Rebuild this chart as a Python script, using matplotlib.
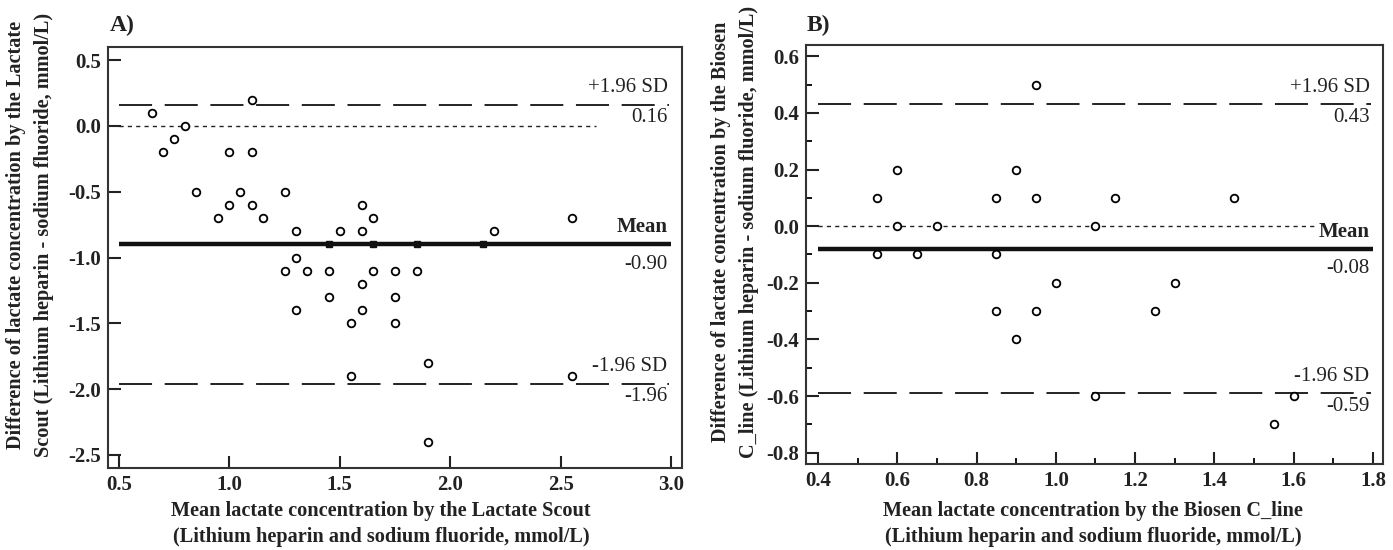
import numpy as np
import matplotlib.pyplot as plt

# Panel A: Lactate Scout vs reference
a_x = [0.65, 0.70, 0.75, 0.80, 0.85, 0.95, 1.00, 1.00, 1.05, 1.10, 1.10, 1.10, 1.15, 1.25,
       1.30, 1.50, 1.60, 1.60, 1.65, 2.20, 2.55, 1.30, 1.25, 1.35, 1.45, 1.45, 1.30, 1.55,
       1.60, 1.60, 1.65, 1.75, 1.75, 1.75, 1.55, 1.85, 1.90, 2.55, 1.90]
a_y = [0.1, -0.2, -0.1, 0.0, -0.5, -0.7, -0.2, -0.6, -0.5, 0.2, -0.2, -0.6, -0.7, -0.5,
       -0.8, -0.8, -0.6, -0.8, -0.7, -0.8, -0.7, -1.0, -1.1, -1.1, -1.1, -1.3, -1.4, -1.5,
       -1.2, -1.4, -1.1, -1.1, -1.3, -1.5, -1.9, -1.1, -1.8, -1.9, -2.4]
a_on_mean_x = [1.45, 1.65, 1.85, 2.15]
a_mean, a_upper, a_lower = -0.90, 0.16, -1.96

# Panel B: Biosen C_line vs reference
b_x = [0.55, 0.55, 0.60, 0.60, 0.65, 0.70, 0.85, 0.85, 0.85, 0.90, 0.90, 0.95, 0.95, 0.95,
       1.00, 1.10, 1.10, 1.15, 1.25, 1.30, 1.45, 1.55, 1.60]
b_y = [0.1, -0.1, 0.2, 0.0, -0.1, 0.0, 0.1, -0.1, -0.3, 0.2, -0.4, 0.5, 0.1, -0.3,
       -0.2, 0.0, -0.6, 0.1, -0.3, -0.2, 0.1, -0.7, -0.6]
b_mean, b_upper, b_lower = -0.08, 0.43, -0.59

FONT = 'Liberation Serif'
plt.rcParams['font.family'] = [FONT, 'DejaVu Serif']

W, H = 1393, 550
fig = plt.figure(figsize=(W / 100, H / 100), dpi=100)


def px_axes(left, top, right, bottom):
    return fig.add_axes([left / W, 1 - bottom / H, (right - left) / W, (bottom - top) / H])


def bland_altman(ax, x, y, mean, upper, lower, xlim, ylim, xticks, yticks,
                 x0, x1, zero_end, minor=None):
    ax.set_xlim(*xlim)
    ax.set_ylim(*ylim)
    ax.plot(x, y, 'o', ms=5.5, mfc='white', mec='black', mew=1.3, zorder=3)

    # limit lines
    for v in (upper, lower):
        ax.plot([x0, x1 - 0.004 * (xlim[1] - xlim[0])], [v, v], color='#222222', lw=1.4,
                dashes=(17, 6.5), zorder=2)
    ax.plot([x0, zero_end], [0, 0], color='#222222', lw=1.0, dashes=(3, 3), zorder=2)
    ax.plot([x0, x1], [mean, mean], color='#111111', lw=3.2, zorder=2,
            solid_capstyle='butt')

    tx = x1 - 0.006 * (xlim[1] - xlim[0])
    kw = dict(xycoords='data', textcoords='offset pixels', ha='right', va='center',
              fontsize=15, color='#222222')
    ax.annotate('+1.96 SD', (tx, upper), xytext=(0, 17), **kw)
    ax.annotate(f'{upper:.2f}', (tx, upper), xytext=(0, -13), **kw)
    ax.annotate('Mean', (tx, mean), xytext=(0, 17), fontweight='bold', **kw)
    ax.annotate(f'{mean:.2f}', (tx, mean), xytext=(0, -20), **kw)
    ax.annotate('-1.96 SD', (tx, lower), xytext=(0, 17), **kw)
    ax.annotate(f'{lower:.2f}', (tx, lower), xytext=(0, -13), **kw)

    ax.set_xticks(xticks)
    ax.set_yticks(yticks)
    ax.set_xticklabels([f'{t:.1f}' for t in xticks])
    ax.set_yticklabels([f'{t:.1f}' for t in yticks])
    ax.tick_params(direction='in', length=9, width=1.5, labelsize=15, pad=5,
                   colors='#222222')
    if minor is not None:
        ax.set_xticks(minor[0], minor=True)
        ax.set_yticks(minor[1], minor=True)
        ax.tick_params(which='minor', direction='in', length=4.5, width=1.3)
    for lab in ax.get_xticklabels() + ax.get_yticklabels():
        lab.set_fontweight('bold')
    for s in ax.spines.values():
        s.set_linewidth(1.5)
        s.set_color('#333333')


# Panel A
axA = px_axes(108, 47, 682, 468)
bland_altman(axA, a_x, a_y, a_mean, a_upper, a_lower,
             (0.45, 3.05), (-2.6, 0.6),
             [0.5, 1.0, 1.5, 2.0, 2.5, 3.0], [-2.5, -2.0, -1.5, -1.0, -0.5, 0.0, 0.5],
             0.5, 3.0, 2.66)
axA.plot(a_on_mean_x, [a_mean] * len(a_on_mean_x), 's', ms=4, color='#111111', zorder=3)

# Panel B
axB = px_axes(806, 45, 1383, 464)
bland_altman(axB, b_x, b_y, b_mean, b_upper, b_lower,
             (0.37, 1.825), (-0.84, 0.64),
             [0.4, 0.6, 0.8, 1.0, 1.2, 1.4, 1.6, 1.8],
             [-0.8, -0.6, -0.4, -0.2, 0.0, 0.2, 0.4, 0.6],
             0.4, 1.8, 1.65,
             minor=([0.5, 0.7, 0.9, 1.1, 1.3, 1.5, 1.7],
                    [-0.7, -0.5, -0.3, -0.1, 0.1, 0.3, 0.5]))

# panel letters and axis titles
xlab_kw = dict(fontsize=14.6, fontweight='bold', color='#222222', ha='center',
               va='center', linespacing=1.35)
ylab_kw = dict(xlab_kw, linespacing=1.55, rotation=90)
fig.text(110 / W, 1 - 25 / H, 'A)', fontsize=17, fontweight='bold', va='center', color='#222222')
fig.text(807 / W, 1 - 25 / H, 'B)', fontsize=17, fontweight='bold', va='center', color='#222222')

fig.text(381 / W, 1 - 524 / H,
         'Mean lactate concentration by the Lactate Scout\n'
         '(Lithium heparin and sodium fluoride, mmol/L)', **xlab_kw)
fig.text(1093 / W, 1 - 524 / H,
         'Mean lactate concentration by the Biosen C_line\n'
         '(Lithium heparin and sodium fluoride, mmol/L)', **xlab_kw)
fig.text(30 / W, 1 - 235 / H,
         'Difference of lactate concentration by the Lactate\n'
         'Scout (Lithium heparin - sodium fluoride, mmol/L)', **ylab_kw)
fig.text(735 / W, 1 - 232 / H,
         'Difference of lactate concentration by the Biosen\n'
         'C_line (Lithium heparin - sodium fluoride, mmol/L)', **ylab_kw)

fig.savefig('out.png', dpi=100)
